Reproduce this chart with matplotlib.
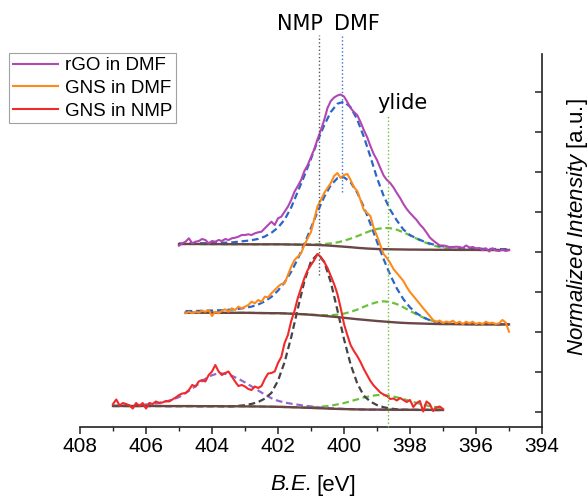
import numpy as np
import matplotlib
matplotlib.use("Agg")
import matplotlib.pyplot as plt
from matplotlib.lines import Line2D

plt.rcParams['font.family'] = ['Liberation Sans', 'DejaVu Sans']
plt.rcParams['mathtext.fontset'] = 'custom'
plt.rcParams['mathtext.it'] = 'Liberation Sans:italic'
plt.rcParams['mathtext.rm'] = 'Liberation Sans'

# ---------------- data (B.E. in eV, intensity in offset plot units) ----------------
# GNS in NMP: measured spectrum, 407.0 -> 397.0 eV, 0.1 eV step
nmp_range = (407.0, 397.0)
nmp_spec = [2.30, 2.75, 2.15, 2.40, 2.30, 2.15, 1.85, 2.40, 2.10, 2.40,
            1.85, 2.40, 2.30, 2.55, 2.40, 2.45, 2.60, 2.55, 2.75, 2.95,
            3.20, 3.35, 3.40, 3.70, 4.20, 4.05, 4.55, 4.70, 4.55, 5.20,
            5.55, 6.20, 5.55, 5.20, 5.40, 5.55, 5.05, 4.55, 4.10, 4.20,
            4.05, 3.80, 3.70, 4.05, 3.90, 4.10, 4.80, 5.35, 5.40, 5.55,
            6.40, 7.00, 8.40, 9.20, 10.60, 11.60, 12.90, 13.90, 14.90, 15.70,
            16.20, 16.70, 17.30, 17.00, 16.50, 15.90, 15.10, 14.30, 13.30, 11.90,
            10.30, 9.20, 8.20, 7.60, 7.10, 6.50, 5.80, 5.20, 4.60, 4.15,
            3.80, 3.45, 3.25, 3.10, 2.80, 2.85, 2.65, 2.90, 2.70, 2.50,
            2.70, 2.00, 2.40, 2.60, 1.55, 2.55, 2.30, 1.60, 1.95, 2.05,
            1.80]
# fit curves, 0.2 eV step
nmp_bg = [2.10, 2.10, 2.10, 2.10, 2.10, 2.10, 2.10, 2.10, 2.09, 2.09,
          2.09, 2.09, 2.09, 2.08, 2.08, 2.08, 2.08, 2.07, 2.07, 2.07,
          2.06, 2.06, 2.05, 2.04, 2.03, 2.02, 2.00, 1.98, 1.96, 1.93,
          1.91, 1.88, 1.86, 1.83, 1.81, 1.79, 1.78, 1.76, 1.75, 1.74,
          1.74, 1.73, 1.73, 1.72, 1.72, 1.72, 1.71, 1.71, 1.71, 1.70,
          1.70]
nmp_peak = [0, 0, 0, 0, 0, 0, 0, 0, 0, 0,
            0, 0, 0, 0, 0, 0, 0, 0, 0, 0.05,
            0.12, 0.25, 0.45, 0.80, 1.38, 2.61, 4.49, 7.00, 9.88, 12.64,
            14.66, 15.40, 14.66, 12.64, 9.88, 7.00, 4.49, 2.61, 1.38, 0.80,
            0.45, 0.25, 0.12, 0.05, 0, 0, 0, 0, 0, 0,
            0]
nmp_sat = [0.02, 0.03, 0.05, 0.07, 0.10, 0.15, 0.22, 0.32, 0.45, 0.65,
           0.90, 1.30, 1.75, 2.25, 2.75, 3.10, 3.30, 3.25, 3.05, 2.75,
           2.40, 2.00, 1.60, 1.20, 0.85, 0.60, 0.45, 0.35, 0.27, 0.20,
           0.15, 0.10, 0.07, 0.05, 0.03, 0.02, 0, 0, 0, 0,
           0, 0, 0, 0, 0, 0, 0, 0, 0, 0,
           0]
nmp_ylide = [0, 0, 0, 0, 0, 0, 0, 0, 0, 0,
             0, 0, 0, 0, 0, 0, 0, 0, 0, 0,
             0, 0, 0, 0, 0, 0, 0, 0, 0.01, 0.03,
             0.07, 0.12, 0.20, 0.30, 0.45, 0.60, 0.80, 1.00, 1.20, 1.35,
             1.45, 1.45, 1.38, 1.25, 1.08, 0.88, 0.70, 0.52, 0.38, 0.27,
             0.18]

# GNS in DMF: 404.8 -> 395.0 eV, 0.1 eV step
dmf_range = (404.8, 395.0)
dmf_spec = [11.37, 11.53, 11.37, 11.53, 11.43, 11.63, 11.53, 11.70,
            11.10, 11.53, 11.37, 11.63, 11.77, 11.53, 11.87, 11.70, 12.03, 11.87,
            12.03, 12.20, 12.53, 12.37, 12.70, 12.53, 13.03, 12.97, 13.37, 13.70,
            14.03, 14.30, 14.37, 15.20, 16.03, 16.70, 17.03, 17.37, 18.20, 18.87,
            19.50, 20.80, 22.10, 22.70, 23.40, 23.90, 24.40, 25.10, 25.40, 24.90,
            25.20, 25.30, 24.70, 24.00, 23.60, 22.70, 21.70, 21.40, 21.10, 19.90,
            19.10, 18.20, 17.30, 16.90, 16.40, 15.80, 15.40, 15.00, 14.60, 14.00,
            13.50, 13.10, 12.70, 12.30, 11.87, 11.50, 11.10, 10.70, 10.50, 10.65,
            10.40, 10.55, 10.45, 10.63, 10.37, 10.53, 10.30, 10.53, 10.37, 10.53,
            10.30, 10.43, 10.30, 10.53, 10.37, 10.43, 10.30, 10.37, 10.70, 10.45,
            9.53]
dmf_bg = [11.43, 11.43, 11.43, 11.43, 11.43, 11.42, 11.42, 11.42, 11.42, 11.42,
          11.41, 11.40, 11.39, 11.38, 11.38, 11.36, 11.33, 11.30, 11.27, 11.22,
          11.17, 11.11, 11.05, 10.99, 10.92, 10.85, 10.78, 10.72, 10.66, 10.60,
          10.55, 10.50, 10.45, 10.41, 10.38, 10.36, 10.34, 10.32, 10.30, 10.29,
          10.29, 10.28, 10.28, 10.27, 10.27, 10.27, 10.27, 10.26, 10.26, 10.26]
dmf_peak = [0.16, 0.17, 0.18, 0.20, 0.22, 0.25, 0.28, 0.33, 0.39, 0.49,
            0.63, 0.85, 1.17, 1.63, 2.26, 3.11, 4.19, 5.51, 7.04, 8.69,
            10.36, 11.90, 13.13, 13.89, 14.05, 13.62, 12.66, 11.29, 9.66, 7.93,
            6.24, 4.71, 3.41, 2.37, 1.58, 1.01, 0.62, 0.36, 0.20, 0.11,
            0.06, 0.03, 0.02, 0.01, 0, 0, 0, 0, 0, 0]
dmf_ylide = [0, 0, 0, 0, 0, 0, 0, 0, 0, 0,
             0, 0, 0, 0, 0, 0, 0, 0, 0.01, 0.01,
             0.03, 0.07, 0.13, 0.25, 0.42, 0.66, 0.96, 1.30, 1.63, 1.88,
             2.02, 2.00, 1.84, 1.56, 1.23, 0.90, 0.61, 0.38, 0.22, 0.12,
             0.06, 0.03, 0.01, 0, 0, 0, 0, 0, 0, 0]

# rGO in DMF: 405.0 -> 395.0 eV, 0.1 eV step
rgo_range = (405.0, 395.0)
rgo_spec = [18.13, 18.37, 18.53, 18.87, 18.37, 18.53, 18.60, 18.80, 18.70, 18.37,
            18.60, 18.53, 18.70, 18.60, 18.80, 18.70, 18.87, 18.93, 19.03, 19.20,
            19.20, 19.27, 19.20, 19.37, 19.47, 19.53, 19.87, 20.20, 20.53, 20.20,
            20.87, 21.03, 21.53, 22.03, 22.70, 23.53, 24.10, 24.70, 25.60, 26.20,
            27.00, 27.80, 28.80, 29.70, 30.70, 31.90, 32.60, 32.95, 33.15, 33.25,
            33.05, 32.50, 31.90, 31.50, 31.20, 30.50, 29.70, 29.00, 28.10, 27.30,
            26.70, 25.90, 25.15, 24.70, 24.40, 23.95, 23.40, 22.90, 22.30, 21.80,
            21.40, 21.05, 20.70, 20.25, 19.90, 19.45, 18.95, 18.65, 18.40, 18.15,
            18.15, 18.10, 17.95, 18.00, 18.03, 18.00, 17.90, 18.15, 17.95, 18.00,
            17.87, 17.90, 17.70, 17.87, 17.55, 17.87, 17.65, 17.60, 17.75, 17.60,
            17.70]
rgo_bg = [18.30, 18.30, 18.30, 18.30, 18.29, 18.29, 18.29, 18.28, 18.28, 18.28,
          18.28, 18.27, 18.27, 18.27, 18.27, 18.27, 18.26, 18.25, 18.24, 18.23,
          18.22, 18.20, 18.17, 18.13, 18.08, 18.03, 17.98, 17.92, 17.87, 17.83,
          17.80, 17.78, 17.77, 17.76, 17.75, 17.74, 17.74, 17.73, 17.73, 17.72,
          17.72, 17.72, 17.71, 17.71, 17.71, 17.71, 17.70, 17.70, 17.70, 17.70,
          17.70]
rgo_peak = [0.05, 0.06, 0.07, 0.08, 0.09, 0.11, 0.13, 0.15, 0.18, 0.25,
            0.32, 0.41, 0.54, 0.78, 1.15, 1.67, 2.48, 3.70, 5.30, 6.90,
            8.60, 10.40, 12.00, 13.37, 14.25, 14.50, 14.00, 12.83, 11.16, 9.20,
            7.10, 5.35, 3.95, 2.90, 2.00, 1.45, 1.12, 0.85, 0.62, 0.45,
            0.34, 0.27, 0.22, 0.18, 0.16, 0.14, 0.12, 0.11, 0.10, 0.09,
            0.08]
rgo_ylide = [0, 0, 0, 0, 0, 0, 0, 0, 0, 0,
             0, 0, 0, 0, 0, 0, 0, 0, 0.01, 0.02,
             0.04, 0.07, 0.13, 0.23, 0.38, 0.59, 0.86, 1.16, 1.48, 1.78,
             2.00, 2.12, 2.11, 1.97, 1.72, 1.42, 1.10, 0.80, 0.55, 0.35,
             0.21, 0.12, 0.06, 0.03, 0.01, 0, 0, 0, 0, 0,
             0]

legend_labels = ["rGO in DMF", "GNS in DMF", "GNS in NMP"]
ref_lines = {"NMP": 400.76, "DMF": 400.06, "ylide": 398.67}
x_ticks = [408, 406, 404, 402, 400, 398, 396, 394]

# ---------------- styling ----------------
C_RGO = '#b246b4'
C_GDMF = '#ff8a1c'
C_NMP = '#f02a2a'
C_BLUE = '#2a66c8'
C_GREEN = '#6cc03a'
C_BLACK = '#444444'
C_SAT = '#9468d0'
C_BG = '#6a4646'

fig = plt.figure(figsize=(5.88, 4.96), dpi=100)
ax = fig.add_axes([80 / 588, 1 - 427 / 496, (542 - 80) / 588, (427 - 54) / 496])
ax.set_xlim(408, 394)
ax.set_ylim(0, 37.3)

DASH = dict(ls=(0, (3, 1.7)), lw=1.6, zorder=2)


def grid(rng, n):
    return np.linspace(rng[0], rng[1], n)


def draw(rng, spec, bg, comps, spec_color):
    e_fit = grid(rng, len(bg))
    bg_a = np.array(bg)
    for vals, col in comps:
        ax.plot(e_fit, bg_a + np.array(vals), color=col, **DASH)
    ax.plot(e_fit, bg_a, color=C_BG, lw=1.7, zorder=3)
    ax.plot(grid(rng, len(spec)), spec, color=spec_color, lw=1.5, zorder=4)


draw(rgo_range, rgo_spec, rgo_bg, [(rgo_ylide, C_GREEN), (rgo_peak, C_BLUE)], C_RGO)
draw(dmf_range, dmf_spec, dmf_bg, [(dmf_ylide, C_GREEN), (dmf_peak, C_BLUE)], C_GDMF)
draw(nmp_range, nmp_spec, nmp_bg, [(nmp_ylide, C_GREEN), (nmp_sat, C_SAT),
                                   (nmp_peak, C_BLACK)], C_NMP)

# reference lines
ax.plot([ref_lines["NMP"]] * 2, [15.2, 39.2], color='#555555', ls=':', lw=1.0,
        clip_on=False, zorder=5)
ax.plot([ref_lines["DMF"]] * 2, [23.5, 39.2], color='#3a72d8', ls=':', lw=1.0,
        clip_on=False, zorder=5)
ax.plot([ref_lines["ylide"]] * 2, [0, 31.2], color='#6cc03a', ls=':', lw=1.0,
        clip_on=False, zorder=5)
ax.text(401.33, 40.3, "NMP", ha='center', va='center', fontsize=15,
        family='DejaVu Sans', clip_on=False)
ax.text(399.61, 40.3, "DMF", ha='center', va='center', fontsize=15,
        family='DejaVu Sans', clip_on=False)
ax.text(398.23, 32.4, "ylide", ha='center', va='center', fontsize=15,
        family='DejaVu Sans', clip_on=False)

# axes styling
for s in ('left', 'top'):
    ax.spines[s].set_visible(False)
for s in ('bottom', 'right'):
    ax.spines[s].set_linewidth(1.2)
    ax.spines[s].set_color('#222222')

ax.set_xticks(x_ticks)
ax.set_xticklabels([str(t) for t in x_ticks])
ax.set_xticks([407, 405, 403, 401, 399, 397, 395], minor=True)
ax.tick_params(axis='x', which='major', direction='out', length=5, width=1.1,
               labelsize=15, pad=2, colors='#222222')
ax.tick_params(axis='x', which='minor', direction='out', length=3, width=1.0,
               colors='#222222')
ax.yaxis.set_ticks_position('right')
ax.set_yticks([1.5 + 4 * k for k in range(9)])
ax.tick_params(axis='y', which='major', direction='in', length=5, width=1.1,
               labelright=False, labelleft=False, colors='#222222')
ax.tick_params(axis='x', labelcolor='black')

# x label: italic "B.E." + upright "[eV]"
fig.text(312 / 588, 1 - 485 / 496, 'B.E.', ha='right', va='center', fontsize=16,
         fontstyle='italic')
fig.text(316 / 588, 1 - 485 / 496, '[eV]', ha='left', va='center', fontsize=16)
fig.text(577 / 588, 1 - 227.5 / 496, r'$\mathit{Normalized\ Intensity}$ [a.u.]',
         rotation=90, ha='center', va='center', fontsize=16)

handles = [Line2D([], [], color=c, lw=1.5) for c in (C_RGO, C_GDMF, C_NMP)]
leg = fig.legend(handles, legend_labels, loc='upper left',
                 bbox_to_anchor=(9.3 / 588, 1 - 53.3 / 496), bbox_transform=fig.transFigure,
                 fontsize=13.5, frameon=True, fancybox=False, borderpad=0.2,
                 handlelength=2.4, handletextpad=0.35, labelspacing=0.3,
                 borderaxespad=0)
leg.get_frame().set_edgecolor('#8a8a8a')
leg.get_frame().set_linewidth(0.8)

fig.savefig('out.png', dpi=100)
